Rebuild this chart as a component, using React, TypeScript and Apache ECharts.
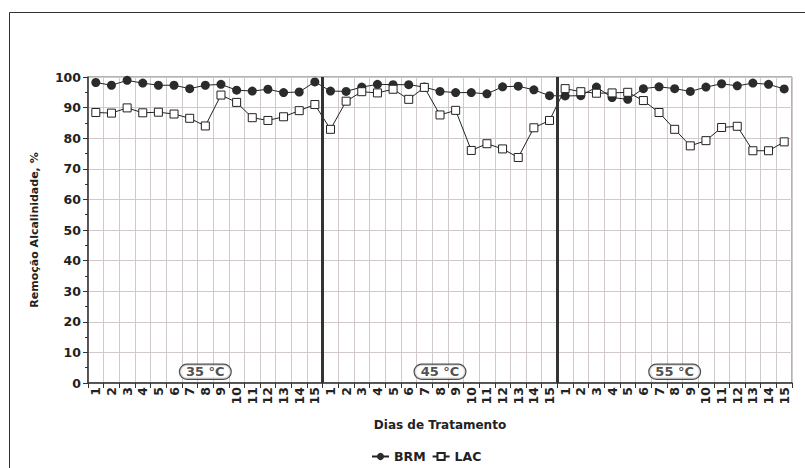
import React, { useEffect, useRef } from "react";
import * as echarts from "echarts";

const temperatures = ["35 °C", "45 °C", "55 °C"];
const days = ["1", "2", "3", "4", "5", "6", "7", "8", "9", "10", "11", "12", "13", "14", "15"];

const brm35 = [98.2, 97.3, 98.9, 98.0, 97.3, 97.3, 96.2, 97.3, 97.6, 95.7, 95.4, 96.0, 94.9, 95.1, 98.4];
const brm45 = [95.4, 95.3, 96.7, 97.6, 97.5, 97.5, 96.7, 95.3, 94.9, 94.9, 94.5, 96.8, 97.0, 95.8, 93.9];
const brm55 = [93.8, 93.9, 96.7, 93.3, 92.7, 96.2, 96.8, 96.2, 95.3, 96.7, 97.8, 97.1, 98.0, 97.6, 96.1];

const lac35 = [88.4, 88.2, 89.9, 88.3, 88.5, 87.9, 86.5, 84.0, 94.1, 91.7, 86.7, 85.8, 87.0, 89.0, 91.0];
const lac45 = [82.9, 92.1, 95.2, 94.8, 96.0, 92.7, 96.6, 87.6, 89.1, 76.0, 78.2, 76.5, 73.7, 83.4, 85.8];
const lac55 = [96.2, 95.2, 94.7, 94.8, 95.0, 92.3, 88.4, 82.9, 77.5, 79.2, 83.5, 83.9, 75.9, 75.9, 78.8];

const yTicks = { min: 0, max: 100, interval: 10 };
const separatorsAt = [15, 30];
const labelY = 3.7;

const FONT = "'DejaVu Sans', Verdana, sans-serif";

export default function App() {
  const ref = useRef<HTMLDivElement>(null);

  useEffect(() => {
    if (!ref.current) return;
    const chart = echarts.init(ref.current, null, { renderer: "svg" });

    const categories: string[] = [];
    temperatures.forEach((t) => days.forEach((d) => categories.push(t + "|" + d)));
    const brm = [...brm35, ...brm45, ...brm55];
    const lac = [...lac35, ...lac45, ...lac55];
    const nCat = categories.length;
    const tempLabels = temperatures.map((t, i) => [
      i * days.length + days.length / 2,
      labelY,
      t,
    ]);

    chart.setOption({
      animation: false,
      backgroundColor: "#ffffff",
      textStyle: { fontFamily: FONT },
      graphic: [
        {
          type: "rect",
          shape: { x: 9.5, y: 12.5, width: 900, height: 600 },
          style: { fill: "none", stroke: "#333", lineWidth: 1 },
          silent: true,
          z: -10,
        },
      ],
      grid: {
        left: 88,
        right: 13,
        top: 77,
        bottom: 85,
        show: true,
        borderColor: "#666",
        borderWidth: 1,
        backgroundColor: "transparent",
      },
      legend: {
        bottom: 0,
        left: 366,
        data: ["BRM", "LAC"],
        itemWidth: 17,
        itemHeight: 9,
        itemGap: 6,
        textStyle: { fontWeight: "bold", fontSize: 12.5, color: "#222", fontFamily: FONT },
      },
      xAxis: [
        {
          type: "category",
          data: categories,
          boundaryGap: true,
          name: "Dias de Tratamento",
          nameLocation: "middle",
          nameGap: 36,
          nameTextStyle: { fontWeight: "bold", fontSize: 12, color: "#222", fontFamily: FONT },
          axisLine: { lineStyle: { color: "#333", width: 1.5 } },
          axisTick: { show: true, length: 5, lineStyle: { color: "#333" } },
          axisLabel: {
            interval: 0,
            rotate: 90,
            margin: 4,
            fontWeight: "bold",
            fontSize: 12.5,
            color: "#222",
            fontFamily: FONT,
            formatter: (v: string) => v.split("|")[1],
          },
          splitLine: { show: true, interval: 0, lineStyle: { color: "#d2caca", width: 1 } },
        },
        {
          type: "value",
          min: 0,
          max: nCat,
          show: false,
          splitLine: { show: false },
        },
      ],
      yAxis: {
        type: "value",
        min: yTicks.min,
        max: yTicks.max,
        interval: yTicks.interval,
        name: "Remoção Alcalinidade, %",
        nameLocation: "middle",
        nameGap: 48,
        nameTextStyle: { fontWeight: "bold", fontSize: 11, color: "#222", fontFamily: FONT },
        axisLine: { show: true, lineStyle: { color: "#333", width: 1.5 } },
        axisTick: { show: true, length: 5, lineStyle: { color: "#333" } },
        minorTick: { show: true, splitNumber: 2, length: 3, lineStyle: { color: "#333" } },
        axisLabel: { fontWeight: "bold", fontSize: 12.5, color: "#222", margin: 7, fontFamily: FONT },
        splitLine: { show: true, lineStyle: { color: "#d2caca", width: 1 } },
      },
      series: [
        {
          name: "BRM",
          type: "line",
          data: brm,
          symbol: "circle",
          symbolSize: 9,
          itemStyle: { color: "#2b2b2b" },
          lineStyle: { color: "#222", width: 1 },
          z: 3,
        },
        {
          name: "LAC",
          type: "line",
          data: lac,
          symbol: "rect",
          symbolSize: 8,
          itemStyle: { color: "#ffffff", borderColor: "#222", borderWidth: 1 },
          lineStyle: { color: "#222", width: 1 },
          z: 4,
        },
        {
          name: "temps",
          type: "scatter",
          xAxisIndex: 1,
          yAxisIndex: 0,
          data: tempLabels,
          symbolSize: 1,
          itemStyle: { color: "transparent" },
          silent: true,
          z: 5,
          label: {
            show: true,
            position: "inside",
            formatter: (p: any) => p.value[2],
            fontWeight: "bold",
            fontSize: 13,
            color: "#222",
            fontFamily: FONT,
            backgroundColor: "#fff",
            borderColor: "#222",
            borderWidth: 1.2,
            borderRadius: 9,
            padding: [1, 6, 0, 6],
          },
          markLine: {
            silent: true,
            symbol: "none",
            label: { show: false },
            lineStyle: { color: "#333", width: 3, type: "solid" },
            data: separatorsAt.map((s) => ({ xAxis: s })),
          },
        },
      ],
    });

    return () => chart.dispose();
  }, []);

  return (
    <div
      ref={ref}
      style={{ position: "fixed", left: 0, top: 0, width: 805, height: 468 }}
    />
  );
}
